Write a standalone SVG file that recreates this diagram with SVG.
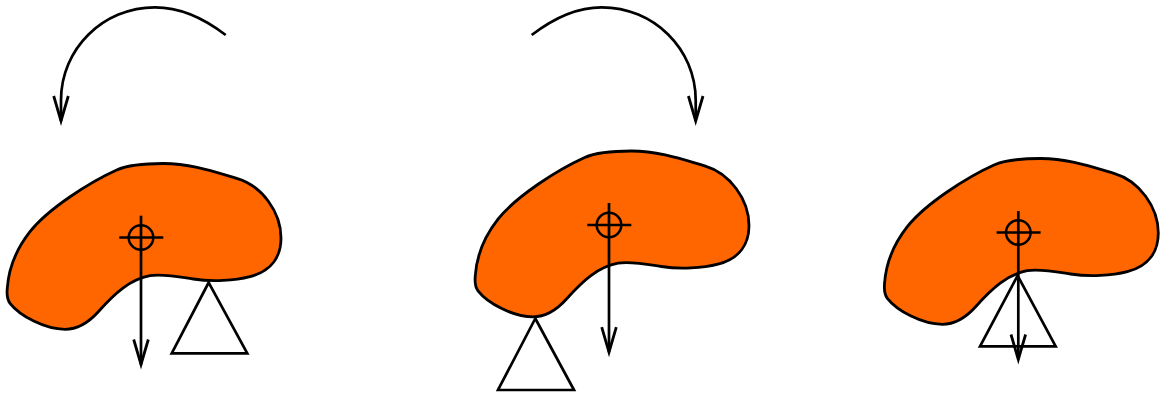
<svg xmlns="http://www.w3.org/2000/svg" width="1163" height="395" viewBox="0 0 1163 395">
<style>
.body{fill:#ff6600;stroke:#000;stroke-width:2.8;stroke-linejoin:round}
.support{fill:#fff;stroke:#000;stroke-width:2.7;stroke-linejoin:miter}
.mark{fill:none;stroke:#000;stroke-width:2.5}
.arrow{fill:none;stroke:#000;stroke-width:2.7;marker-end:url(#head)}
</style>
<defs>
<marker id="head" markerUnits="userSpaceOnUse" markerWidth="30" markerHeight="20" refX="25" refY="10" orient="auto" overflow="visible">
<path d="M0 2.7L25 10L0 17.3" fill="none" stroke="#000" stroke-width="2.8"/>
</marker>
<path id="shape" d="M7.3 288C8.8 266 18 247 30 231.7C48 208.7 90 182 116.7 170C130 164 150 163.5 163.3 163.5C190 163.5 212 171 236.7 178.3C262 185.8 281 212 281 238C281 256 272 271 250 276.7C235 280.6 212 282 193.3 279C178 276.6 162 273.5 150 275.7C130 279.4 115 293 98.3 311.7C89 322 78 329.3 65 329.3C45 329.3 20 316 10 303.3C7.4 300 6.8 293 7.3 288Z"/>
<g id="target"><circle cx="141" cy="237.5" r="12.3"/><path d="M119.3 237.5H163.3"/></g>
</defs>
<g id="state-1">
<use href="#shape" class="body"/>
<path class="support" d="M208.7 282.5L171.7 353.3H247.3Z"/>
<use href="#target" class="mark"/>
</g>
<g id="state-2">
<use href="#shape" class="body" transform="translate(468 -12.5)"/>
<path class="support" d="M535.3 318.5L498 390H574Z"/>
<use href="#target" class="mark" transform="translate(468 -12.5)"/>
</g>
<g id="state-3">
<use href="#shape" class="body" transform="translate(877.3 -5)"/>
<path class="support" d="M1017.6 275.7L980 346.3H1055.7Z"/>
<use href="#target" class="mark" transform="translate(877.3 -5)"/>
</g>
<g id="connectors">
<path class="arrow" d="M225.7 35C205 19 180 7.3 155 7.3C103.1 7.3 61 48.9 61 100.3V121"/>
<path class="arrow" d="M531.7 35C552.4 19 577.4 7.3 601.7 7.3C653.6 7.3 695.7 48.9 695.7 100.3V121"/>
<path class="arrow" d="M141 215.7V364.5"/>
<path class="arrow" d="M609 203V352.2"/>
<path class="arrow" d="M1018.3 211V359.5"/>
</g>
</svg>
